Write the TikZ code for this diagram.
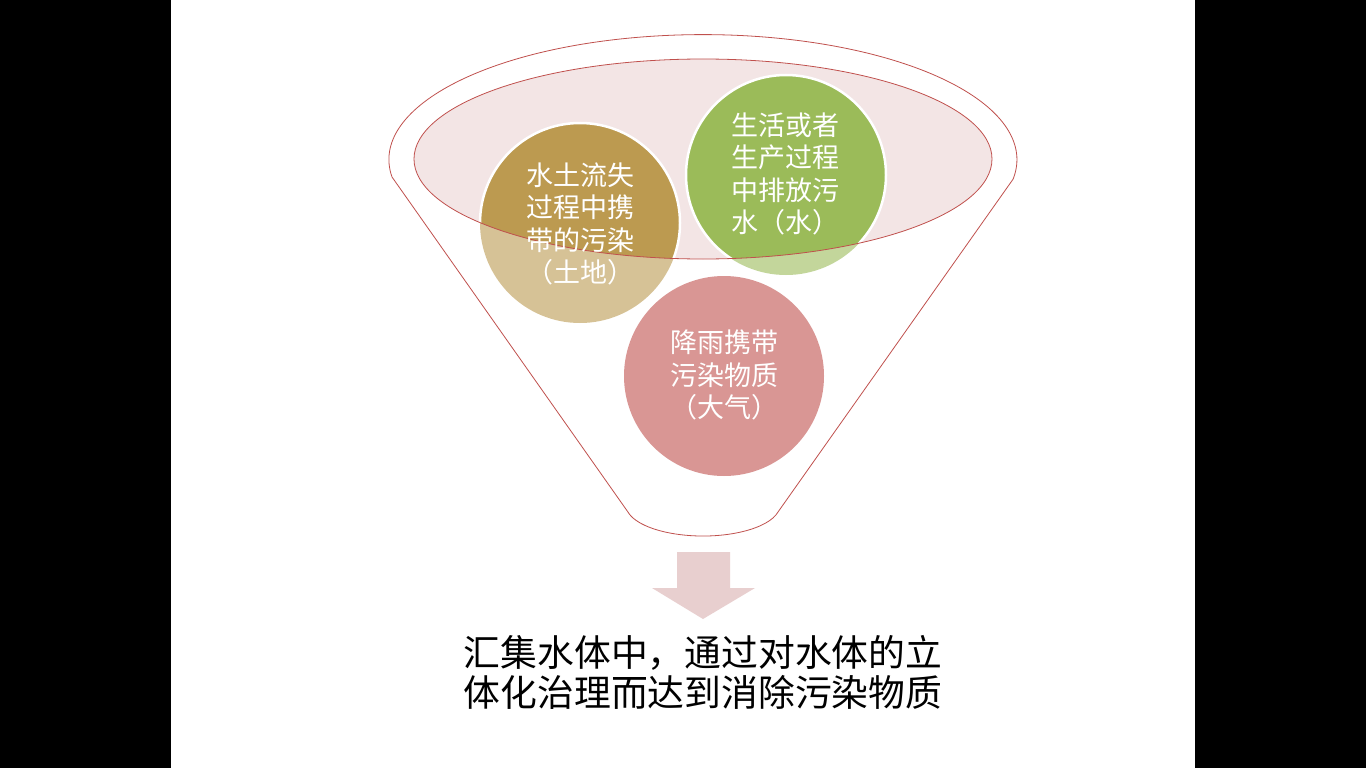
\documentclass[tikz,border=0pt]{standalone}
\usepackage{fontspec}
\newfontfamily\cjk{Noto Sans CJK SC}
\usetikzlibrary{positioning}
\definecolor{soilbrown}{RGB}{188,154,80}
\definecolor{watergreen}{RGB}{155,187,89}
\definecolor{airred}{RGB}{192,80,77}
\definecolor{funnelline}{RGB}{192,80,77}
\definecolor{mouthfill}{RGB}{243,229,229}
\definecolor{arrowpink}{RGB}{232,207,207}
\tikzset{
    blobtext/.style={text=white, align=center, inner sep=0pt,
        font=\cjk\fontsize{27}{32.5}\selectfont},
    resulttext/.style={align=center, inner sep=0pt,
        font=\cjk\fontsize{36.8}{40}\selectfont},
    funnel/.style={draw=funnelline, line width=0.8pt}
}

\begin{document}
\begin{tikzpicture}[x=1pt, y=-1pt]
    \useasboundingbox (0,0) rectangle (1366,768);
    \fill[black] (0,0) rectangle (1366,768);
    \fill[white] (171,0) rectangle (1195,768);

    % mouth of the funnel
    \fill[mouthfill] (703,159) ellipse [x radius=289, y radius=100];

    % the three sources, pale outside the mouth, full inside it
    \foreach \cx/\cy/\col in {580/223/soilbrown, 786/175/watergreen, 724/376/airred}
        \fill[\col, opacity=0.6] (\cx,\cy) circle (100);
    \begin{scope}
        \clip (703,159) ellipse [x radius=289, y radius=100];
        \foreach \cx/\cy/\col in {580/223/soilbrown, 786/175/watergreen, 724/376/airred}
            \filldraw[fill=\col, draw=white, line width=2.5pt] (\cx,\cy) circle (100);
    \end{scope}
    \draw[funnel] (703,159) ellipse [x radius=289, y radius=100];

    % funnel body
    \draw[funnel] (392,177) arc[start angle=172, end angle=369, x radius=314, y radius=125]
        -- (778,512) arc[start angle=13, end angle=167, x radius=77, y radius=31] -- cycle;

    \node[blobtext] (SOIL) at (580,224) {水土流失\\过程中携\\带的污染\\（土地）};
    \node[blobtext] (WATER) at (785,174) {生活或者\\生产过程\\中排放污\\水（水）};
    \node[blobtext] (AIR) at (724,375) {降雨携带\\污染物质\\（大气）};

    % down arrow to the result
    \fill[arrowpink] (677,552) -- (730,552) -- (730,588) -- (755,588) -- (703,619)
        -- (652,588) -- (677,588) -- cycle;

    \node[resulttext] (RESULT) at (703,672) {汇集水体中，通过对水体的立\\体化治理而达到消除污染物质};
\end{tikzpicture}
\end{document}
